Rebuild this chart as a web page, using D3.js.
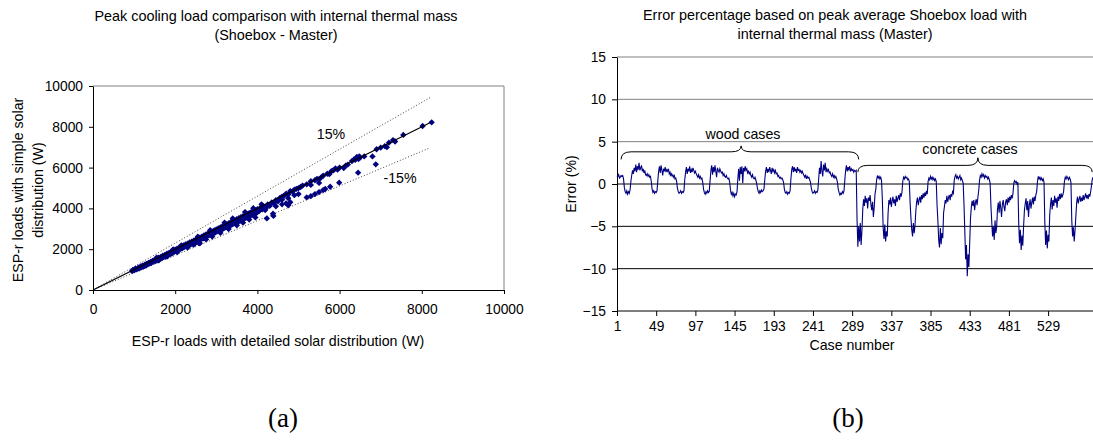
<!DOCTYPE html>
<html>
<head>
<meta charset="utf-8">
<script src="https://cdn.jsdelivr.net/npm/d3@7"></script>
<style>
body { margin: 0; background: #fff; }
svg text { font-family: "Liberation Sans", Arial, sans-serif; fill: #000; }
</style>
</head>
<body>
<svg width="1093" height="444"></svg>
<script>
// (a) peak cooling loads, detailed vs simple solar distribution (W)
var detailedLoads = [
  950, 980, 1000, 1030, 1060, 1100, 1120, 1150, 1180, 1200, 1230, 1260, 1290, 1300, 1330, 1350, 1380, 1400, 1420, 1450,
  1470, 1500, 1520, 1540, 1570, 1600, 1620, 1650, 1670, 1700, 1720, 1750, 1770, 1800, 1820, 1850, 1870, 1900, 1920, 1950,
  1970, 2000, 1600, 1800, 1550, 1950,
  2020, 2050, 2080, 2100, 2120, 2150, 2180, 2200, 2230, 2250, 2280, 2300, 2320, 2350, 2380, 2400, 2420, 2450, 2470, 2500,
  2520, 2550, 2580, 2600, 2620, 2650, 2680, 2700, 2720, 2750, 2780, 2800, 2820, 2850, 2880, 2900, 2920, 2950, 2980, 3000,
  2050, 2300, 2450, 2480, 2600, 2560, 2750, 2900, 2150, 2550, 2850,
  3020, 3050, 3080, 3100, 3130, 3150, 3180, 3200, 3230, 3250, 3280, 3300, 3320, 3350, 3380, 3400, 3420, 3450, 3480, 3500,
  3520, 3550, 3580, 3600, 3620, 3650, 3680, 3700, 3720, 3750, 3780, 3800, 3830, 3850, 3880, 3900, 3930, 3950, 3980, 4000,
  4050, 4080, 4120, 4150, 4200, 4250, 4300, 4350, 4400, 4450, 4500,
  3100, 3300, 3500, 3650, 3800, 3950, 3200, 3400, 3700, 3900, 4100, 4390, 4190, 4380, 4230,
  4550, 4600, 4650, 4700, 4750, 4800, 4850, 4900, 4950, 5000, 5050, 5100, 5200, 5300, 5400, 5450, 5500, 5550, 5600, 5700,
  5750, 5800, 5850, 5900, 5950, 6000, 6100, 6150, 6200, 6300, 6350, 6400, 6420, 6450, 6480, 6500, 6380, 6460, 6600, 6900,
  7000, 7100, 7150, 7200, 7300, 7350, 7550, 8020, 8240,
  4600, 4750, 4800, 4750, 4700, 4900, 5000, 5200, 5300, 5400, 5500, 5600, 5650, 5770, 5300, 5500, 5990, 6450, 6880, 6800,
  4450, 4600,
  1250, 1420, 1700, 1880, 2150, 2350, 2700, 2950, 3150, 3350, 3550, 3750, 3980, 4200, 2650, 3450
];
var simpleLoads = [
  930, 990, 960, 1040, 1010, 1090, 1050, 1140, 1110, 1190, 1150, 1240, 1200, 1280, 1260, 1330, 1300, 1380, 1330, 1430,
  1390, 1480, 1420, 1510, 1470, 1580, 1500, 1620, 1560, 1680, 1610, 1720, 1650, 1780, 1700, 1820, 1750, 1880, 1790, 1920,
  1860, 1980, 1450, 1640, 1590, 1990,
  1910, 2030, 1970, 2080, 2010, 2130, 2060, 2180, 2110, 2230, 2150, 2270, 2190, 2330, 2240, 2370, 2280, 2420, 2330, 2470,
  2390, 2520, 2440, 2570, 2480, 2620, 2530, 2670, 2580, 2720, 2630, 2770, 2680, 2820, 2730, 2870, 2780, 2920, 2830, 2970,
  1860, 2080, 2220, 2290, 2290, 2330, 2480, 2620, 2190, 2610, 2930,
  2880, 3020, 2930, 3070, 2970, 3120, 3020, 3170, 3070, 3220, 3120, 3270, 3160, 3320, 3210, 3370, 3260, 3420, 3300, 3470,
  3350, 3520, 3400, 3570, 3440, 3620, 3490, 3670, 3540, 3720, 3590, 3770, 3640, 3820, 3690, 3860, 3740, 3910, 3790, 3960,
  3880, 4040, 3950, 4110, 4040, 4190, 4120, 4290, 4230, 4400, 4350,
  2800, 2990, 3170, 3300, 3450, 3560, 3300, 3510, 3820, 4010, 4200, 3630, 3920, 3740, 3510,
  4520, 4580, 4620, 4720, 4680, 4850, 4830, 4920, 4960, 4990, 5050, 5120, 5180, 5330, 5380, 5450, 5430, 5520, 5600, 5700,
  5680, 5820, 5870, 5960, 5900, 6000, 5980, 6100, 6150, 6320, 6400, 6450, 6520, 6480, 6550, 6500, 6380, 6420, 6550, 6900,
  6980, 7050, 7000, 7220, 7350, 7280, 7600, 8040, 8220,
  4430, 4500, 4300, 4150, 4250, 4650, 4700, 4540, 4600, 4700, 4800, 4900, 4950, 5060, 5150, 5250, 5260, 5750, 6160, 6550,
  4100, 4200,
  1180, 1350, 1610, 1780, 2040, 2230, 2560, 2800, 2990, 3180, 3370, 3560, 3780, 3990, 2520, 3280
];
var loadTicks = [0, 2000, 4000, 6000, 8000, 10000];
var refLine = [0, 8200];
var bandLabels = ['15%', '-15%'];

// (b) error percentage per case, wood cases then concrete cases
var woodErrors = [
  0.8, 0.9, 1.1, 0.7, 0.8, 1.0, 0.9, 1.0, 0.6,
  -0.4, -0.9, -1.1, -0.8, -1.2, -0.9, -1.1, -0.7, 0.3, 1.0,
  1.6, 1.2, 1.9, 1.5, 2.3, 1.4, 2.1, 1.7, 2.5, 1.6, 1.9, 2.2, 1.5, 1.8, 1.3, 1.6,
  1.1, 1.0, 1.2, 0.9, 1.1, 0.8, 0.9, 0.3,
  -0.6, -1.0, -0.8, -1.1, -0.9, -1.0, -0.8,
  0.4, 1.5, 2.1, 1.3, 2.2, 1.6, 1.0, 1.8, 1.5, 2.0, 1.4, 1.7, 1.5, 1.8, 1.2, 1.4,
  0.9, 1.2, 1.0, 0.8, 1.1, 0.6, 0.7, 0.3,
  -0.5, -0.9, -1.1, -1.0, -0.8, -1.1, -0.9, -1.0, -0.8,
  0.5, 1.4, 2.0, 1.2, 1.8, 1.5, 2.1, 1.3, 1.7, 1.4, 1.9, 1.6, 1.3, 1.5, 1.2,
  1.0, 0.8, 1.1, 0.7, 0.9, 0.6, 0.7, 0.2,
  -0.6, -1.0, -1.2, -0.9, -1.1, -0.8, -1.0, -0.9,
  0.4, 1.6, 2.2, 1.1, 2.0, 1.4, 2.2, 1.5, 0.8, 1.9, 1.6, 1.4, 1.8, 1.5, 1.3, 1.4,
  1.0, 1.2, 0.9, 0.8, 1.0, 0.7, 0.6, 0.7, 0.2,
  -0.7, -1.2, -1.0, -1.4, -1.1, -1.5, -1.2, -1.3, -0.9,
  0.6, 1.8, 0.4, 2.0, 1.2, 2.1, 0.1, 1.9, 1.5, 2.1, 1.6, 1.8, 1.3, 1.5, 1.2, 1.4,
  1.0, 0.8, 1.1, 0.7, 0.6, 0.8, 0.5, 0.1,
  -0.5, -0.9, -1.1, -0.8, -1.0, -0.7, -0.9, -0.8, -0.6,
  0.5, 1.5, 2.0, 1.3, 1.8, 1.4, 2.0, 1.6, 1.2, 1.9, 1.5, 1.7, 1.3, 1.6, 1.2, 1.3,
  0.9, 1.0, 0.7, 0.8, 0.6, 0.7, 0.5, 0.2,
  -0.6, -1.0, -1.1, -0.9, -1.2, -1.0, -1.1, -0.8,
  0.6, 1.7, 2.1, 1.4, 2.0, 1.5, 1.8, 1.3, 2.0, 1.6, 1.7, 1.4, 1.6, 1.3, 1.5, 1.2,
  1.0, 0.8, 1.1, 0.6, 0.9, 0.7, 0.8, 0.5, 0.2,
  -0.5, -0.9, -1.1, -1.0, -0.8, -1.1, -0.9, -1.0, -0.7,
  0.6, 1.9, 1.2, 2.7, 1.5, 0.9, 2.3, 1.6, 2.5, 1.4, 1.8, 1.5, 1.7, 1.3, 1.4,
  1.1, 0.9, 1.2, 0.8, 1.0, 0.7, 0.9, 0.6, 0.2,
  -0.6, -1.0, -1.3, -1.1, -1.2, -0.9, -1.1, -0.8,
  0.4, 1.6, 2.2, 1.5, 2.0, 1.7, 2.1, 1.5, 1.8, 1.6, 1.7, 1.4, 1.6, 1.5, 1.6
];
var concreteErrors = [
  -4.2, -7.4, -5.0, -6.8, -4.6, -7.2, -5.5, -3.0,
  -1.8, -2.6, -1.4, -2.2, -1.7, -2.9, -1.6, -2.0, -1.3, -2.4, -3.1, -2.1, -3.9, -2.8, -1.2, -0.6,
  0.5, 1.0, 0.7, 0.9, 0.6, 0.8, 0.4, -1.8,
  -5.2, -6.5, -4.8, -6.8, -5.6, -6.2, -3.5,
  -1.9, -2.4, -1.6, -2.7, -2.0, -1.5, -2.3, -1.8, -2.6, -1.4, -2.1, -1.7, -1.3, -1.9, -1.1, -1.5, -1.0,
  0.3, 0.8, 0.6, 0.9, 0.7, 0.8, 0.5, 0.6, 0.3, -2.2, -4.0,
  -5.4, -6.2, -4.6, -5.8, -4.9, -3.2,
  -2.1, -1.6, -2.5, -1.9, -1.5, -2.2, -1.3, -1.8, -1.1, -1.6, -1.0, -1.4, -0.8, -1.2,
  0.3, 0.7, 0.5, 0.9, 0.6, 0.8, 0.5, 0.7, 0.4, 0.6, 0.3, -2.5,
  -4.3, -6.6, -7.5, -5.2, -7.1, -5.8, -6.4, -3.4,
  -2.7, -1.9, -2.3, -1.4, -2.1, -1.6, -1.3, -1.9, -1.2, -1.5, -0.9, -1.1,
  0.4, 0.9, 1.1, 0.7, 0.9, 0.6, 0.8, 1.0, 0.5, 0.7, 0.4, 0.1, -2.4,
  -5.6, -8.9, -7.2, -10.9, -8.3, -9.8, -6.9, -4.0,
  -2.7, -2.0, -2.6, -1.9, -3.1, -2.2, -1.8, -2.5, -1.6, -0.8,
  0.4, 1.0, 0.8, 1.2, 0.9, 1.1, 0.7, 1.0, 0.8, 0.9, 0.6, 0.8, 0.5, 0.1, -2.6,
  -4.5, -6.2, -5.0, -6.6, -4.3, -5.8, -5.1, -3.0,
  -2.2, -3.4, -2.0, -2.8, -3.9, -2.4, -1.9, -2.7, -3.2, -2.1, -1.8, -2.5, -1.6, -2.2, -1.5, -1.9, -1.3, -1.7, -1.1,
  0.1, 0.4, 0.2, 0.3, 0.0, 0.2,
  -4.6, -7.0, -5.4, -7.8, -6.1, -7.3, -5.0, -3.1,
  -2.3, -1.7, -3.1, -2.0, -3.9, -2.5, -1.8, -2.9, -2.2, -1.6, -2.4, -1.5, -2.0, -1.3, -0.9,
  0.3, 0.9, 0.6, 0.8, 0.5, 0.7, 0.4, 0.6, 0.2,
  -4.6, -7.2, -5.5, -7.6, -6.0, -6.8, -3.6,
  -2.4, -1.6, -3.0, -1.9, -2.6, -1.4, -2.2, -1.7, -2.8, -1.5, -2.0, -1.2, -1.8, -1.1, -1.6, -1.3, -0.9,
  0.3, 0.8, 0.6, 0.9, 0.7, 0.5, 0.8, 0.6, 0.2,
  -4.3, -6.2, -5.1, -6.8, -5.5, -3.8,
  -2.2, -1.5, -2.3, -1.8, -1.4, -2.1, -1.6, -2.0, -1.3, -1.9, -1.5, -1.1, -1.7, -1.3, -1.8, -1.2, -1.5, -1.0,
  -0.3, 0.5, 0.8
];
var caseTicks = [1, 49, 97, 145, 193, 241, 289, 337, 385, 433, 481, 529];
var errorTicks = [15, 10, 5, 0, -5, -10, -15];

var svg = d3.select('svg');
svg.append('rect').attr('width', 1093).attr('height', 444).attr('fill', 'white');

// ---------- (a) scatter ----------
var xA = d3.scaleLinear().domain([0, 10000]).range([93, 504]);
var yA = d3.scaleLinear().domain([0, 10000]).range([290, 86]);

// plot area border (top + right)
svg.append('path')
  .attr('d', 'M' + xA(0) + ',' + yA(10000) + 'H' + xA(10000) + 'V' + yA(0))
  .attr('fill', 'none').attr('stroke', '#808080').attr('stroke-width', 1);

var axA = svg.append('g').attr('transform', 'translate(0,' + yA(0) + ')')
  .call(d3.axisBottom(xA).tickValues(loadTicks).tickFormat(d3.format('d')).tickSize(4).tickSizeOuter(0).tickPadding(10));
var ayA = svg.append('g').attr('transform', 'translate(' + xA(0) + ',0)')
  .call(d3.axisLeft(yA).tickValues(loadTicks).tickFormat(d3.format('d')).tickSize(4).tickSizeOuter(0).tickPadding(6));
[axA, ayA].forEach(function (g) {
  g.selectAll('text').attr('font-size', 13.8).attr('font-family', '"Liberation Sans", Arial, sans-serif');
  g.selectAll('line,path').attr('stroke', '#000');
});

// +/-15% and 1:1 reference lines
var bands = [1.15, 0.85];
bands.forEach(function (k) {
  svg.append('line')
    .attr('x1', xA(refLine[0])).attr('y1', yA(refLine[0] * k))
    .attr('x2', xA(refLine[1])).attr('y2', yA(refLine[1] * k))
    .attr('stroke', '#444').attr('stroke-width', 1).attr('stroke-dasharray', '1,2');
});

var pts = detailedLoads.map(function (d, i) { return [d, simpleLoads[i]]; });
svg.append('g').selectAll('path').data(pts).enter().append('path')
  .attr('transform', function (d) { return 'translate(' + xA(d[0]) + ',' + yA(d[1]) + ') rotate(45)'; })
  .attr('d', d3.symbol().type(d3.symbolSquare).size(20))
  .attr('fill', '#000080');

svg.append('line')
  .attr('x1', xA(refLine[0])).attr('y1', yA(refLine[0]))
  .attr('x2', xA(refLine[1])).attr('y2', yA(refLine[1]))
  .attr('stroke', '#000').attr('stroke-width', 1.2);

svg.append('text').attr('x', 331).attr('y', 139).attr('text-anchor', 'middle').attr('font-size', 14.2).text(bandLabels[0]);
svg.append('text').attr('x', 400).attr('y', 183).attr('text-anchor', 'middle').attr('font-size', 14.2).text(bandLabels[1]);

svg.append('text').attr('x', 276).attr('y', 21).attr('text-anchor', 'middle').attr('font-size', 14.4)
  .text('Peak cooling load comparison with internal thermal mass');
svg.append('text').attr('x', 276).attr('y', 40).attr('text-anchor', 'middle').attr('font-size', 14.4)
  .text('(Shoebox - Master)');
svg.append('text').attr('x', 278).attr('y', 346).attr('text-anchor', 'middle').attr('font-size', 14.2)
  .text('ESP-r loads with detailed solar distribution (W)');
svg.append('text').attr('transform', 'translate(23,190) rotate(-90)').attr('text-anchor', 'middle').attr('font-size', 14.2)
  .text('ESP-r loads with simple solar');
svg.append('text').attr('transform', 'translate(43,190) rotate(-90)').attr('text-anchor', 'middle').attr('font-size', 14.2)
  .text('distribution (W)');

// ---------- (b) error line ----------
var errors = woodErrors.concat(concreteErrors);
var xB = d3.scaleLinear().domain([1, 584]).range([617, 1093]);
var yB = d3.scaleLinear().domain([-15, 15]).range([311, 57]);

svg.append('g').selectAll('line').data(errorTicks.slice(0, 6)).enter().append('line')
  .attr('x1', xB(1)).attr('x2', 1093)
  .attr('y1', function (d) { return yB(d); }).attr('y2', function (d) { return yB(d); })
  .attr('stroke', function (d) { return d > 0 ? '#808080' : '#000'; }).attr('stroke-width', 1);

var axB = svg.append('g').attr('transform', 'translate(0,' + yB(-15) + ')')
  .call(d3.axisBottom(xB).tickValues(caseTicks).tickSize(5).tickSizeOuter(0).tickPadding(5));
var ayB = svg.append('g').attr('transform', 'translate(' + xB(1) + ',0)')
  .call(d3.axisLeft(yB).tickValues(errorTicks).tickSize(5).tickSizeOuter(0).tickPadding(6));
[axB, ayB].forEach(function (g) {
  g.selectAll('text').attr('font-size', 13.8).attr('font-family', '"Liberation Sans", Arial, sans-serif');
  g.selectAll('line,path').attr('stroke', '#000');
});
axB.select('.domain').attr('d', 'M' + xB(1) + ',0H1093');

var line = d3.line()
  .x(function (d, i) { return xB(i + 1); })
  .y(function (d) { return yB(d); });
svg.append('path').datum(errors).attr('d', line)
  .attr('fill', 'none').attr('stroke', '#000080').attr('stroke-width', 1.1);

// braces
function brace(x1, x2, xm, yEnd, yMid, yTip) {
  var r = 10;
  return 'M' + x1 + ',' + yEnd + 'Q' + x1 + ',' + yMid + ' ' + (x1 + r) + ',' + yMid +
    'L' + (xm - r) + ',' + yMid + 'Q' + xm + ',' + yMid + ' ' + xm + ',' + yTip +
    'Q' + xm + ',' + yMid + ' ' + (xm + r) + ',' + yMid +
    'L' + (x2 - r) + ',' + yMid + 'Q' + x2 + ',' + yMid + ' ' + x2 + ',' + yEnd;
}
svg.append('path').attr('d', brace(xB(6), xB(297), xB(153), yB(2.9), yB(3.8), yB(4.5)))
  .attr('fill', 'none').attr('stroke', '#000').attr('stroke-width', 1);
svg.append('path').attr('d', brace(xB(296), xB(583), xB(443), yB(1.4), yB(2.2), yB(3.1)))
  .attr('fill', 'none').attr('stroke', '#000').attr('stroke-width', 1);
svg.append('text').attr('x', 743).attr('y', 139).attr('text-anchor', 'middle').attr('font-size', 14.2).text('wood cases');
svg.append('text').attr('x', 970).attr('y', 154).attr('text-anchor', 'middle').attr('font-size', 14.2).text('concrete cases');

svg.append('text').attr('x', 835).attr('y', 20).attr('text-anchor', 'middle').attr('font-size', 14.4)
  .text('Error percentage based on peak average Shoebox load with');
svg.append('text').attr('x', 835).attr('y', 39).attr('text-anchor', 'middle').attr('font-size', 14.4)
  .text('internal thermal mass (Master)');
svg.append('text').attr('x', 852).attr('y', 350).attr('text-anchor', 'middle').attr('font-size', 14.2).text('Case number');
svg.append('text').attr('transform', 'translate(576,184) rotate(-90)').attr('text-anchor', 'middle').attr('font-size', 14.2)
  .text('Error (%)');

// panel captions
svg.append('text').attr('x', 283).attr('y', 427).attr('text-anchor', 'middle')
  .style('font-family', '"Liberation Serif", serif')
  .attr('font-size', 27).text('(a)');
svg.append('text').attr('x', 848).attr('y', 427).attr('text-anchor', 'middle')
  .style('font-family', '"Liberation Serif", serif')
  .attr('font-size', 27).text('(b)');
</script>
</body>
</html>
